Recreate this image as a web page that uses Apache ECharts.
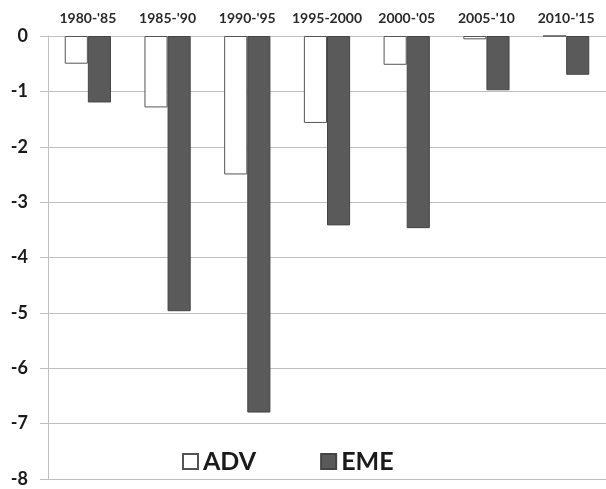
<!DOCTYPE html>
<html><head><meta charset="utf-8">
<script src="https://cdn.jsdelivr.net/npm/echarts@6/dist/echarts.min.js"></script>
<style>html,body{margin:0;padding:0;background:#fff}#c{width:606px;height:489px}</style>
</head><body><div id="c"></div>
<script>
var categories = ["1980-'85", "1985-'90", "1990-'95", "1995-2000", "2000-'05", "2005-'10", "2010-'15"];
var advValues = [-0.5, -1.29, -2.5, -1.57, -0.52, -0.06, 0];
var emeValues = [-1.2, -4.97, -6.8, -3.42, -3.47, -0.98, -0.7];
var seriesNames = ["ADV", "EME"];

var chart = echarts.init(document.getElementById('c'));
chart.setOption({
  animation: false,
  backgroundColor: '#fff',
  grid: {left: 48, top: 36, right: -8, bottom: 10},
  legend: {
    data: seriesNames.map(function (n) { return {name: n, icon: 'rect'}; }),
    left: 177, top: 444,
    itemWidth: 15, itemHeight: 15, itemGap: 64,
    textStyle: {fontFamily: 'Lato', fontWeight: 'bold', fontSize: 25, color: '#1a1a1a'}
  },
  xAxis: {
    type: 'category', position: 'top', data: categories,
    axisLine: {lineStyle: {color: '#bfbfbf', width: 1}},
    axisTick: {inside: true, length: 6, lineStyle: {color: '#bfbfbf'}},
    axisLabel: {fontFamily: 'Lato', fontWeight: 'bold', fontSize: 14, color: '#2a2a2a', margin: 11, interval: 0}
  },
  yAxis: {
    type: 'value', min: -8, max: 0, interval: 1,
    axisLine: {show: true, lineStyle: {color: '#bfbfbf'}},
    axisTick: {show: true, length: 8, lineStyle: {color: '#bfbfbf'}},
    splitLine: {lineStyle: {color: '#bfbfbf'}},
    axisLabel: {fontFamily: 'Lato', fontWeight: 'bold', fontSize: 18, color: '#1a1a1a', margin: 20}
  },
  series: [
    {name: seriesNames[0], type: 'bar', data: advValues, barGap: '0%', barCategoryGap: '42%',
     itemStyle: {color: '#ffffff', borderColor: '#555555', borderWidth: 1}},
    {name: seriesNames[1], type: 'bar', data: emeValues,
     itemStyle: {color: '#5a5a5a', borderColor: '#444444', borderWidth: 1}}
  ]
});
</script></body></html>
